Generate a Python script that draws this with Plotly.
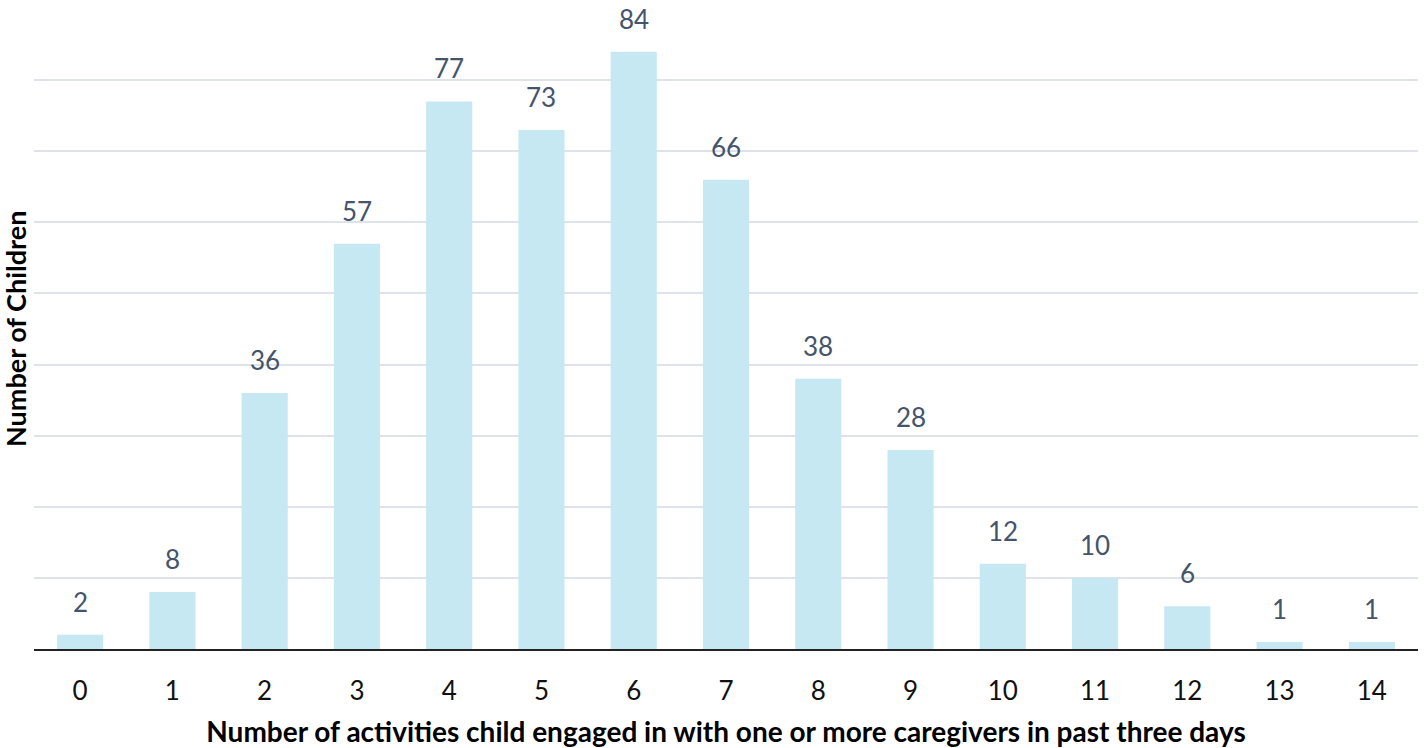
import plotly.graph_objects as go

categories = [str(i) for i in range(15)]
counts = [2, 8, 36, 57, 77, 73, 84, 66, 38, 28, 12, 10, 6, 1, 1]

x_title = "Number of activities child engaged in with one or more caregivers in past three days"
y_title = "Number of Children"

FONT = "Lato"

fig = go.Figure()
fig.add_trace(go.Bar(
    x=categories, y=counts, width=0.5,
    marker=dict(color="#c6e8f3", line=dict(width=0)),
    hoverinfo="skip",
))

for c, v in zip(categories, counts):
    fig.add_annotation(x=c, y=v, text=str(v), showarrow=False,
                       yanchor="bottom", yshift=15,
                       font=dict(family=FONT, size=26, color="#44546a"))

# y-axis title placed as rotated annotation for precise placement
fig.add_annotation(xref="paper", yref="paper", x=0, y=0.5,
                   xanchor="center", yanchor="middle", xshift=-19,
                   textangle=-90, showarrow=False,
                   text="<b>" + y_title + "</b>",
                   font=dict(family=FONT, size=27, color="#000000"))

fig.update_layout(
    width=1424, height=748,
    margin=dict(l=34, r=6, t=9, b=99, autoexpand=False),
    plot_bgcolor="white", paper_bgcolor="white",
    showlegend=False,
    xaxis=dict(
        type="category", automargin=False,
        showgrid=False,
        showline=True, linecolor="#222222", linewidth=2,
        ticks="", ticklabelstandoff=18,
        tickfont=dict(family=FONT, size=26, color="#111111"),
        title=dict(text="<b>" + x_title + "</b>", standoff=20,
                   font=dict(family=FONT, size=28, color="#000000")),
    ),
    yaxis=dict(
        range=[0, 90], dtick=10, automargin=False,
        showgrid=True, gridcolor="#dfe2e8", gridwidth=2,
        showticklabels=False, zeroline=False, showline=False,
    ),
)

fig.write_html("out.html", config={"displayModeBar": False},
               post_script="document.body.style.margin='0px';")
